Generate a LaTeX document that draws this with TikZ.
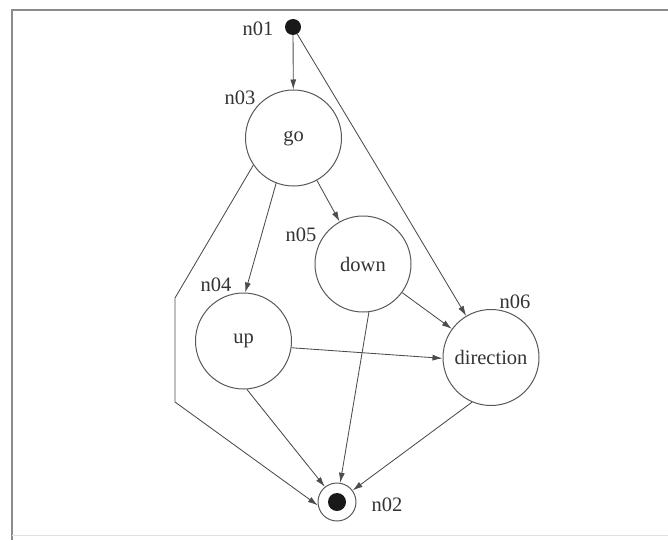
\documentclass[tikz,border=0pt]{standalone}
\usepackage{fontspec}
\setmainfont{Liberation Serif}
\usetikzlibrary{arrows.meta}
\begin{document}
\begin{tikzpicture}[x=1pt,y=-1pt,
  state/.style={circle,draw=black!65,line width=1pt,minimum size=96pt,inner sep=0pt,text=black!80,font=\fontsize{20.5}{24}\selectfont},
  initdot/.style={circle,fill=black!90,minimum size=16pt,inner sep=0pt},
  finalring/.style={circle,draw=black!65,line width=1pt,minimum size=38pt,inner sep=0pt},
  lbl/.style={text=black!80,font=\fontsize{20.5}{24}\selectfont,inner sep=0pt},
  conn/.style={draw=black!70,line width=0.85pt,-{Latex[length=10pt,width=6pt]}},
  frameline/.style={draw=black!45,line width=1.6pt}]
\useasboundingbox (0,0) rectangle (668,540);
\draw[frameline] (668,10) -- (12,10) -- (12,540);
\draw[draw=black!12,line width=1pt] (12,535) -- (668,535);

\node[initdot] (n01) at (293,27) {};
\node[state] (n03) at (293.5,138) {\raisebox{-3pt}{go}};
\node[state] (n04) at (243.5,341) {\raisebox{-4pt}{up}};
\node[state] (n05) at (363,264) {\raisebox{-3pt}{down}};
\node[state] (n06) at (491,357.5) {\raisebox{-3pt}{direction}};
\node[finalring] (n02) at (337,502) {};
\node[circle,fill=black!90,minimum size=18pt,inner sep=0pt] (n02dot) at (n02) {};

\node[lbl] (l01) at (258,29) {n01};
\node[lbl] (l03) at (240,98) {n03};
\node[lbl] (l04) at (216,285) {n04};
\node[lbl] (l05) at (301,235) {n05};
\node[lbl] (l06) at (515,302) {n06};
\node[lbl] (l02) at (387,505) {n02};

\coordinate (b1) at (400,205);
\coordinate (c1) at (175,298);
\coordinate (c2) at (175,402);

\draw[conn] (n01) -- (n03);
\draw[conn] (n01) -- (b1) -- (n06);
\draw[conn] (n03) -- (n05);
\draw[conn] (n03.249) -- (n04.88);
\draw[conn] (n03.214) -- (c1) -- (c2) -- (n02.190);
\draw[conn] (n05) -- (n06);
\draw[conn] (n05.277) -- (n02);
\draw[conn] (n04.352) -- (n06.181);
\draw[conn] (n04.274) -- (n02);
\draw[conn] (n06.247) -- (n02);
\end{tikzpicture}
\end{document}
